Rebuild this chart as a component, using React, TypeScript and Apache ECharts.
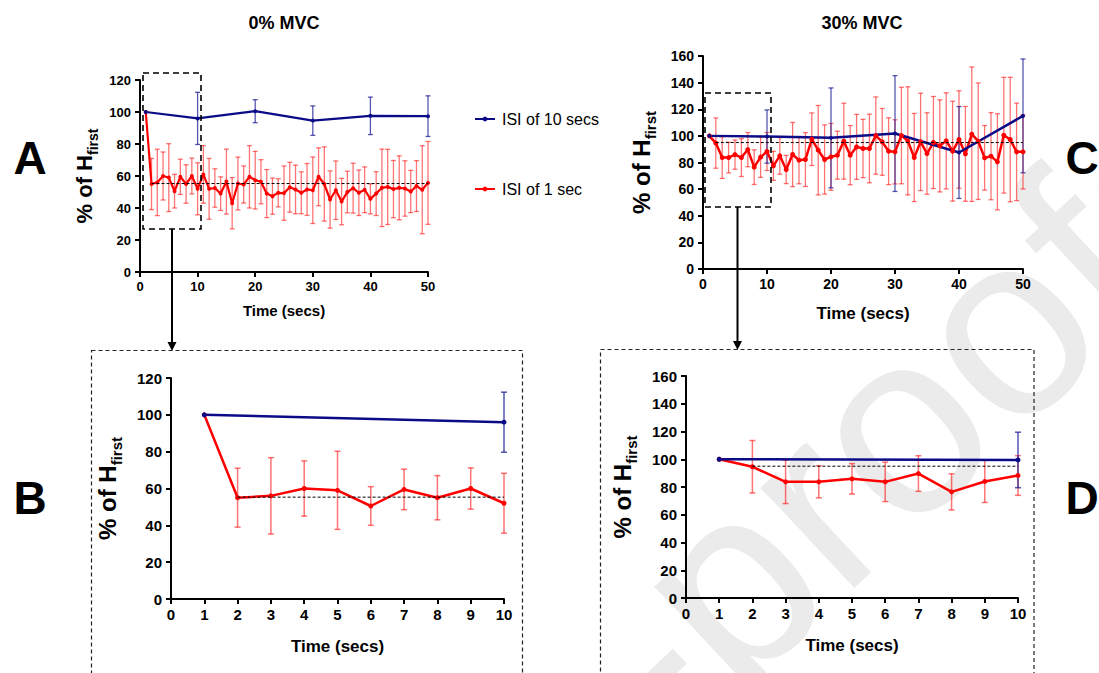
import React, { useEffect, useRef } from "react";
import * as echarts from "echarts";

// ---------------- DATA ----------------
const timeSecs = [
  1, 2, 3, 4, 5, 6, 7, 8, 9, 10, 11, 12, 13, 14, 15, 16, 17, 18, 19, 20, 21, 22, 23, 24, 25,
  26, 27, 28, 29, 30, 31, 32, 33, 34, 35, 36, 37, 38, 39, 40, 41, 42, 43, 44, 45, 46, 47, 48, 49, 50,
];
const isi10Times = [1, 10, 20, 30, 40, 50];

// 0% MVC, ISI of 1 sec (mean, SD)
const mvc0Isi1Mean = [
  100, 55, 56, 60, 59, 50.5, 59.5, 55, 60, 52, 61, 52, 52.5, 49, 56.5, 43, 55.3, 54.7, 59.5, 57.4,
  56.4, 49, 47.4, 49.5, 49.3, 53, 51.6, 49.5, 51.6, 51.1, 59.5, 55, 45.3, 51.1, 44, 50, 52.4, 49.5,
  51.4, 45.7, 49, 52.6, 53.2, 51.8, 52.6, 52.2, 50.3, 53.7, 51.4, 55.7,
];
const mvc0Isi1Sd = [
  0, 16, 20.75, 15, 21.2, 10.5, 11, 12, 11.2, 16.25, 18, 19, 12, 10.5, 20.3, 16, 16.5, 11.6, 19.5,
  18, 13.8, 15, 11.3, 8.8, 17, 15.6, 15.2, 13.1, 16.2, 20.8, 18.1, 23.2, 17.9, 18.3, 14.5, 13, 15.6,
  14.2, 14.3, 9.4, 13.7, 24.2, 23.5, 17.9, 20, 17.3, 13.2, 15.9, 27.5, 25.9,
];
// 0% MVC, ISI of 10 secs
const mvc0Isi10Mean = [100, 96, 100.5, 94.6, 97.6, 97.4];
const mvc0Isi10Sd = [0, 16.3, 7.2, 9.2, 11.7, 12.7];

// 30% MVC, ISI of 1 sec
const mvc30Isi1Mean = [
  100, 94.6, 83.7, 83.7, 85.9, 83.7, 89.7, 76.5, 84, 88.3, 77.5, 85, 74.75, 86, 81.75, 82.25, 97.5,
  89.25, 82.25, 84.25, 85.5, 96, 85.5, 91.75, 90.5, 90.5, 100.25, 95.5, 88.5, 88, 100.25, 96.25,
  83.75, 95.5, 86.75, 95, 92.5, 96.25, 88.5, 97.25, 86.5, 101.25, 96, 83.5, 84.75, 80.5, 100.5,
  97.25, 88, 88,
];
const mvc30Isi1Sd = [
  0, 18.9, 15.65, 11.55, 10.95, 14.2, 12.85, 13, 15.15, 14.3, 10.9, 13.75, 10.6, 24.1, 17.75, 20.25,
  19.75, 33.6, 26, 25.1, 18, 28.5, 22.25, 24.4, 21.9, 25.75, 29, 25.1, 25.1, 24.1, 36.25, 40.6, 33.1,
  36.6, 30.6, 34.6, 34.6, 36.1, 37.5, 36.6, 35.6, 50.5, 43.75, 24.25, 32.75, 36.1, 43.5, 46.75, 36.6,
  27.9,
];
// 30% MVC, ISI of 10 secs
const mvc30Isi10Mean = [100, 99.5, 98.5, 101.75, 87.5, 115];
const mvc30Isi10Sd = [0, 20, 37.5, 43.5, 34.5, 42.75];

// plateau (dashed reference) levels
const plateau0 = 55.3;
const plateau30 = 95;
const plateauStart = 2;

const panelTitles = ["0% MVC", "30% MVC"];
const seriesNames = ["ISI of 10 secs", "ISI of 1 sec"];
const panelLetters = ["A", "B", "C", "D"];
const xName = "Time (secs)";
const watermark = "Pre-proofs";

// ---------------- STYLE ----------------
const FONT = "'Liberation Sans', Arial, sans-serif";
const RED = "#ff0000";
const RED_ERR = "rgba(255,0,0,0.55)";
const BLUE = "#0b0b88";
const BLUE_ERR = "rgba(30,30,150,0.75)";

function errorBars(gi: number, times: number[], mean: number[], sd: number[], color: string, cap: number, lw: number) {
  const data: number[][] = [];
  times.forEach((t, i) => {
    if (i < mean.length && sd[i] > 0) data.push([t, mean[i] - sd[i], mean[i] + sd[i]]);
  });
  return {
    type: "custom",
    xAxisIndex: gi,
    yAxisIndex: gi,
    silent: true,
    z: 2,
    data,
    encode: { x: 0, y: [1, 2] },
    renderItem: (params: any, api: any) => {
      const x = api.value(0);
      const lo = api.value(1);
      const hi = api.value(2);
      const p1 = api.coord([x, hi]);
      const p2 = api.coord([x, lo]);
      const h = cap / 2;
      const st = { stroke: color, lineWidth: lw };
      return {
        type: "group",
        children: [
          { type: "line", shape: { x1: p1[0], y1: p1[1], x2: p2[0], y2: p2[1] }, style: st },
          { type: "line", shape: { x1: p1[0] - h, y1: p1[1], x2: p1[0] + h, y2: p1[1] }, style: st },
          { type: "line", shape: { x1: p2[0] - h, y1: p2[1], x2: p2[0] + h, y2: p2[1] }, style: st },
        ],
      };
    },
  };
}

function lineSeries(gi: number, name: string, times: number[], mean: number[], color: string, width: number, sym: number) {
  return {
    type: "line",
    name,
    xAxisIndex: gi,
    yAxisIndex: gi,
    data: mean.map((m, i) => [times[i], m]),
    symbol: "circle",
    symbolSize: sym,
    showSymbol: true,
    lineStyle: { color, width },
    itemStyle: { color },
    z: 4,
  };
}

function plateauSeries(gi: number, level: number, endT: number) {
  return {
    type: "line",
    xAxisIndex: gi,
    yAxisIndex: gi,
    data: [
      [plateauStart, level],
      [endT, level],
    ],
    symbol: "none",
    silent: true,
    lineStyle: { color: "#000", width: 1, type: [3, 2] },
    z: 5,
  };
}

function xAxis(gi: number, max: number, interval: number, fs: number, nameFs: number, nameGap: number) {
  return {
    type: "value",
    gridIndex: gi,
    min: 0,
    max,
    interval,
    name: xName,
    nameLocation: "middle",
    nameGap,
    nameTextStyle: { fontSize: nameFs, fontWeight: "bold", color: "#000", fontFamily: FONT },
    axisLine: { show: true, onZero: false, lineStyle: { color: "#000", width: 2 } },
    axisTick: { show: true, length: 5, lineStyle: { color: "#000", width: 2 } },
    axisLabel: { fontSize: fs, fontWeight: "bold", color: "#000", margin: 8, fontFamily: FONT },
    splitLine: { show: false },
  };
}

function yAxis(gi: number, max: number, fs: number, nameFs: number, subFs: number, nameGap: number) {
  return {
    type: "value",
    gridIndex: gi,
    min: 0,
    max,
    interval: 20,
    name: "{m|% of H}{s|first}",
    nameLocation: "middle",
    nameRotate: 90,
    nameGap,
    nameTextStyle: {
      color: "#000",
      fontFamily: FONT,
      rich: {
        m: { fontSize: nameFs, fontWeight: "bold", color: "#000", fontFamily: FONT, verticalAlign: "bottom", padding: [0, 0, Math.round(subFs * 0.35), 0] },
        s: { fontSize: subFs, fontWeight: "bold", color: "#000", fontFamily: FONT, verticalAlign: "bottom" },
      },
    },
    axisLine: { show: true, onZero: false, lineStyle: { color: "#000", width: 2 } },
    axisTick: { show: true, length: 5, lineStyle: { color: "#000", width: 2 } },
    axisLabel: { fontSize: fs, fontWeight: "bold", color: "#000", margin: 9, fontFamily: FONT },
    splitLine: { show: false },
  };
}

export default function App() {
  const ref = useRef<HTMLDivElement>(null);

  useEffect(() => {
    document.body.style.margin = "0";
    if (!ref.current) return;
    const chart = echarts.init(ref.current, undefined, { renderer: "svg" });

    const first10 = timeSecs.slice(0, 10);
    const blue10 = isi10Times.slice(0, 2);

    const dash = { fill: "none", stroke: "#000", lineWidth: 1.6, lineDash: [6, 4] };
    const dashBig = { fill: "none", stroke: "#222", lineWidth: 1.2, lineDash: [4, 3] };
    const deg = Math.PI / 180;
    const wmAngle = 43 * deg;

    const option: any = {
      animation: false,
      backgroundColor: "#fff",
      textStyle: { fontFamily: FONT },
      grid: [
        { left: 140, top: 80, width: 288, height: 192 },
        { left: 703, top: 56, width: 320, height: 213 },
        { left: 171, top: 378, width: 333, height: 221 },
        { left: 686, top: 376, width: 332, height: 222 },
      ],
      xAxis: [
        xAxis(0, 50, 10, 13, 15, 31),
        xAxis(1, 50, 10, 14, 17, 36),
        xAxis(2, 10, 1, 15, 17, 39),
        xAxis(3, 10, 1, 15, 17, 39),
      ],
      yAxis: [
        yAxis(0, 120, 13, 22, 14, 40),
        yAxis(1, 160, 14, 24, 15, 45),
        yAxis(2, 120, 15, 24, 15, 47),
        yAxis(3, 160, 15, 24, 15, 47),
      ],
      legend: {
        data: seriesNames,
        orient: "vertical",
        left: 469,
        top: 106,
        itemGap: 54,
        itemWidth: 20,
        itemHeight: 6,
        selectedMode: false,
        textStyle: { fontSize: 16, color: "#000", fontFamily: FONT, padding: [0, 0, 0, 2] },
      },
      graphic: [
        {
          type: "text",
          silent: true,
          z: -10,
          x: 315,
          y: 968,
          rotation: wmAngle,
          style: {
            text: watermark,
            font: `260px 'Liberation Sans', Arial, sans-serif`,
            fill: "#ebebeb",
            textAlign: "left",
            textVerticalAlign: "middle",
          },
        },
        { type: "text", x: 284, y: 23, style: { text: panelTitles[0], font: `bold 18px ${FONT}`, fill: "#000", textAlign: "center", textVerticalAlign: "middle" } },
        { type: "text", x: 862, y: 23, style: { text: panelTitles[1], font: `bold 18px ${FONT}`, fill: "#000", textAlign: "center", textVerticalAlign: "middle" } },
        { type: "text", x: 30, y: 158, style: { text: panelLetters[0], font: `bold 46px ${FONT}`, fill: "#000", textAlign: "center", textVerticalAlign: "middle" } },
        { type: "text", x: 30, y: 498, style: { text: panelLetters[1], font: `bold 46px ${FONT}`, fill: "#000", textAlign: "center", textVerticalAlign: "middle" } },
        { type: "text", x: 1082, y: 158, style: { text: panelLetters[2], font: `bold 46px ${FONT}`, fill: "#000", textAlign: "center", textVerticalAlign: "middle" } },
        { type: "text", x: 1082, y: 498, style: { text: panelLetters[3], font: `bold 46px ${FONT}`, fill: "#000", textAlign: "center", textVerticalAlign: "middle" } },
        { type: "rect", z: 10, shape: { x: 143, y: 73, width: 58, height: 156 }, style: dash },
        { type: "rect", z: 10, shape: { x: 705, y: 93, width: 66, height: 114 }, style: dash },
        { type: "rect", z: 10, shape: { x: 91.5, y: 350.5, width: 431, height: 340 }, style: dashBig },
        { type: "rect", z: 10, shape: { x: 600.5, y: 349.5, width: 433.5, height: 340 }, style: dashBig },
        { type: "line", z: 10, shape: { x1: 172, y1: 229, x2: 172, y2: 343 }, style: { stroke: "#000", lineWidth: 2 } },
        { type: "polygon", z: 10, shape: { points: [[167.5, 342], [176.5, 342], [172, 351]] }, style: { fill: "#000" } },
        { type: "line", z: 10, shape: { x1: 737.5, y1: 207, x2: 737.5, y2: 342 }, style: { stroke: "#000", lineWidth: 2 } },
        { type: "polygon", z: 10, shape: { points: [[733, 341], [742, 341], [737.5, 350]] }, style: { fill: "#000" } },
      ],
      series: [
        // A: 0% MVC, full
        errorBars(0, timeSecs, mvc0Isi1Mean, mvc0Isi1Sd, RED_ERR, 5, 1.3),
        errorBars(0, isi10Times, mvc0Isi10Mean, mvc0Isi10Sd, BLUE_ERR, 5, 1.3),
        lineSeries(0, seriesNames[1], timeSecs, mvc0Isi1Mean, RED, 2.2, 4),
        lineSeries(0, seriesNames[0], isi10Times, mvc0Isi10Mean, BLUE, 2.2, 4),
        plateauSeries(0, plateau0, 50),
        // C: 30% MVC, full
        errorBars(1, timeSecs, mvc30Isi1Mean, mvc30Isi1Sd, RED_ERR, 5, 1.3),
        errorBars(1, isi10Times, mvc30Isi10Mean, mvc30Isi10Sd, BLUE_ERR, 5, 1.3),
        lineSeries(1, seriesNames[1], timeSecs, mvc30Isi1Mean, RED, 2.5, 5),
        lineSeries(1, seriesNames[0], isi10Times, mvc30Isi10Mean, BLUE, 2.5, 4),
        plateauSeries(1, plateau30, 50),
        // B: 0% MVC, first 10 s
        errorBars(2, first10, mvc0Isi1Mean.slice(0, 10), mvc0Isi1Sd.slice(0, 10), RED_ERR, 6, 1.5),
        errorBars(2, blue10, mvc0Isi10Mean.slice(0, 2), mvc0Isi10Sd.slice(0, 2), BLUE_ERR, 6, 1.5),
        lineSeries(2, seriesNames[1], first10, mvc0Isi1Mean.slice(0, 10), RED, 2.5, 5),
        lineSeries(2, seriesNames[0], blue10, mvc0Isi10Mean.slice(0, 2), BLUE, 2.5, 5),
        plateauSeries(2, plateau0, 10),
        // D: 30% MVC, first 10 s
        errorBars(3, first10, mvc30Isi1Mean.slice(0, 10), mvc30Isi1Sd.slice(0, 10), RED_ERR, 6, 1.5),
        errorBars(3, blue10, mvc30Isi10Mean.slice(0, 2), mvc30Isi10Sd.slice(0, 2), BLUE_ERR, 6, 1.5),
        lineSeries(3, seriesNames[1], first10, mvc30Isi1Mean.slice(0, 10), RED, 2.5, 5),
        lineSeries(3, seriesNames[0], blue10, mvc30Isi10Mean.slice(0, 2), BLUE, 2.5, 5),
        plateauSeries(3, plateau30, 10),
      ],
    };

    chart.setOption(option);
    return () => chart.dispose();
  }, []);

  return <div ref={ref} style={{ position: "absolute", left: 0, top: 0, width: 1099, height: 673 }} />;
}
